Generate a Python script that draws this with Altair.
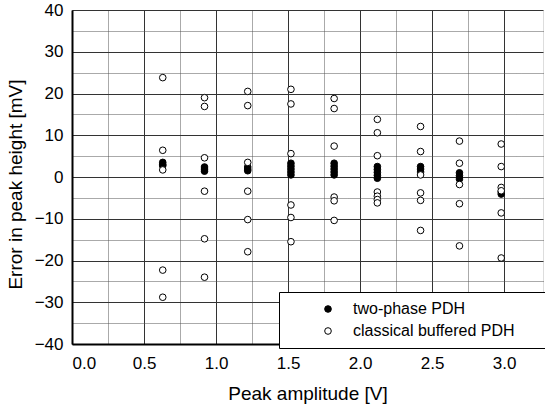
import altair as alt
import pandas as pd

# Column positions (peak amplitude, V)
col_amp = [0.63, 0.92, 1.22, 1.52, 1.82, 2.12, 2.42, 2.69, 2.98]

# two-phase PDH errors (mV), per column
two_phase = [
    [3.5, 3.0, 2.7],
    [2.4, 1.9, 1.4],
    [2.4, 1.9, 1.5],
    [3.3, 2.6, 1.9, 1.2, 0.5],
    [3.3, 2.6, 1.9, 1.2, 0.5],
    [2.5, 1.8, 1.1, 0.4, -0.3],
    [2.5, 1.9, 1.2],
    [1.0, 0.3, -0.5],
    [-3.6, -4.1],
]

# classical buffered PDH errors (mV), per column
classical = [
    [23.8, 6.4, 1.7, -22.3, -28.8],
    [19.0, 16.9, 4.6, -3.4, -14.8, -24.0],
    [20.5, 17.1, 3.5, -3.4, -10.2, -17.9],
    [21.0, 17.5, 5.6, -6.7, -9.7, -15.5],
    [18.8, 16.4, 7.4, -4.8, -5.7, -10.4],
    [13.8, 10.6, 5.1, -3.6, -4.6, -5.4, -6.2],
    [12.1, 6.1, 0.5, -3.8, -5.6, -12.8],
    [8.6, 3.3, -1.8, -6.4, -16.5],
    [7.9, 2.5, -2.5, -3.3, -8.6, -19.4],
]

series_names = ["two-phase PDH", "classical buffered PDH"]

x_major = [0.0, 0.5, 1.0, 1.5, 2.0, 2.5, 3.0]
x_minor = [0.25, 0.75, 1.25, 1.75, 2.25, 2.75]
y_major = [-40, -30, -20, -10, 0, 10, 20, 30, 40]
y_minor = [-35, -25, -15, -5, 5, 15, 25, 35]

rows = []
for name, groups in zip(series_names, [two_phase, classical]):
    for amp, vals in zip(col_amp, groups):
        for v in vals:
            rows.append({"amp": amp, "err": v, "series": name})
df = pd.DataFrame(rows)

FONT = "Liberation Sans"
xs = alt.Scale(domain=[0, 3.27], nice=False, zero=False)
ys = alt.Scale(domain=[-40, 40], nice=False)

# minor dotted grid (drawn via an axis on the opposite sides, no labels)
minor = alt.Chart(df).mark_point(opacity=0).encode(
    x=alt.X("amp:Q", scale=xs, axis=alt.Axis(
        values=x_minor, orient="top", labels=False, ticks=False, domain=False, title=None,
        grid=True, gridDash=[1, 1], gridColor="#555", gridWidth=1)),
    y=alt.Y("err:Q", scale=ys, axis=alt.Axis(
        values=y_minor, orient="right", labels=False, ticks=False, domain=False, title=None,
        grid=True, gridDash=[1, 1], gridColor="#555", gridWidth=1)),
)

points = alt.Chart(df).mark_point(
    shape="circle", filled=True, size=44, stroke="black", strokeWidth=1, opacity=1
).encode(
    x=alt.X("amp:Q", scale=xs, axis=alt.Axis(
        values=x_major, format=".1f",
        grid=True, gridColor="#333", gridWidth=1,
        ticks=False, domainColor="black", domainWidth=2,
        labelFontSize=17, labelPadding=11, labelColor="black", labelFont=FONT,
        title="Peak amplitude [V]", titleFontSize=19, titleFontWeight="normal",
        titleFont=FONT, titleColor="black", titleY=40, titleBaseline="top",
    )),
    y=alt.Y("err:Q", scale=ys, axis=alt.Axis(
        values=y_major,
        grid=True, gridColor="#333", gridWidth=1,
        ticks=False, domainColor="black", domainWidth=2,
        labelFontSize=17, labelPadding=9, labelColor="black", labelFont=FONT,
        title="Error in peak height [mV]", titleFontSize=19, titleFontWeight="normal",
        titleFont=FONT, titleColor="black", titleX=-51, titleY=174,
        titleBaseline="alphabetic", titleAngle=270, titleAlign="center",
    )),
    fill=alt.Fill("series:N", scale=alt.Scale(domain=series_names, range=["black", "white"]),
                  legend=alt.Legend(
                      orient="none", legendX=207, legendY=282, title=None,
                      fillColor="white", strokeColor="black", padding=9,
                      symbolType="circle", symbolSize=44, symbolStrokeColor="black",
                      symbolStrokeWidth=1, symbolOffset=32, labelOffset=17,
                      rowPadding=6, labelFontSize=16, labelFont=FONT, labelColor="black",
                      labelLimit=400,
                      labelExpr="datum.label + '\u2800\u2800'",
                  )),
)

chart = alt.layer(minor, points).resolve_axis(
    x="independent", y="independent"
).properties(
    width=471, height=334,
    padding={"left": 72, "top": 10, "right": 2, "bottom": 64},
    autosize=alt.AutoSizeParams(type="none"),
).configure_view(
    stroke="black", strokeWidth=1.5
).configure(background="white")

chart.save("out.html", embed_options={"renderer": "svg", "actions": False})
